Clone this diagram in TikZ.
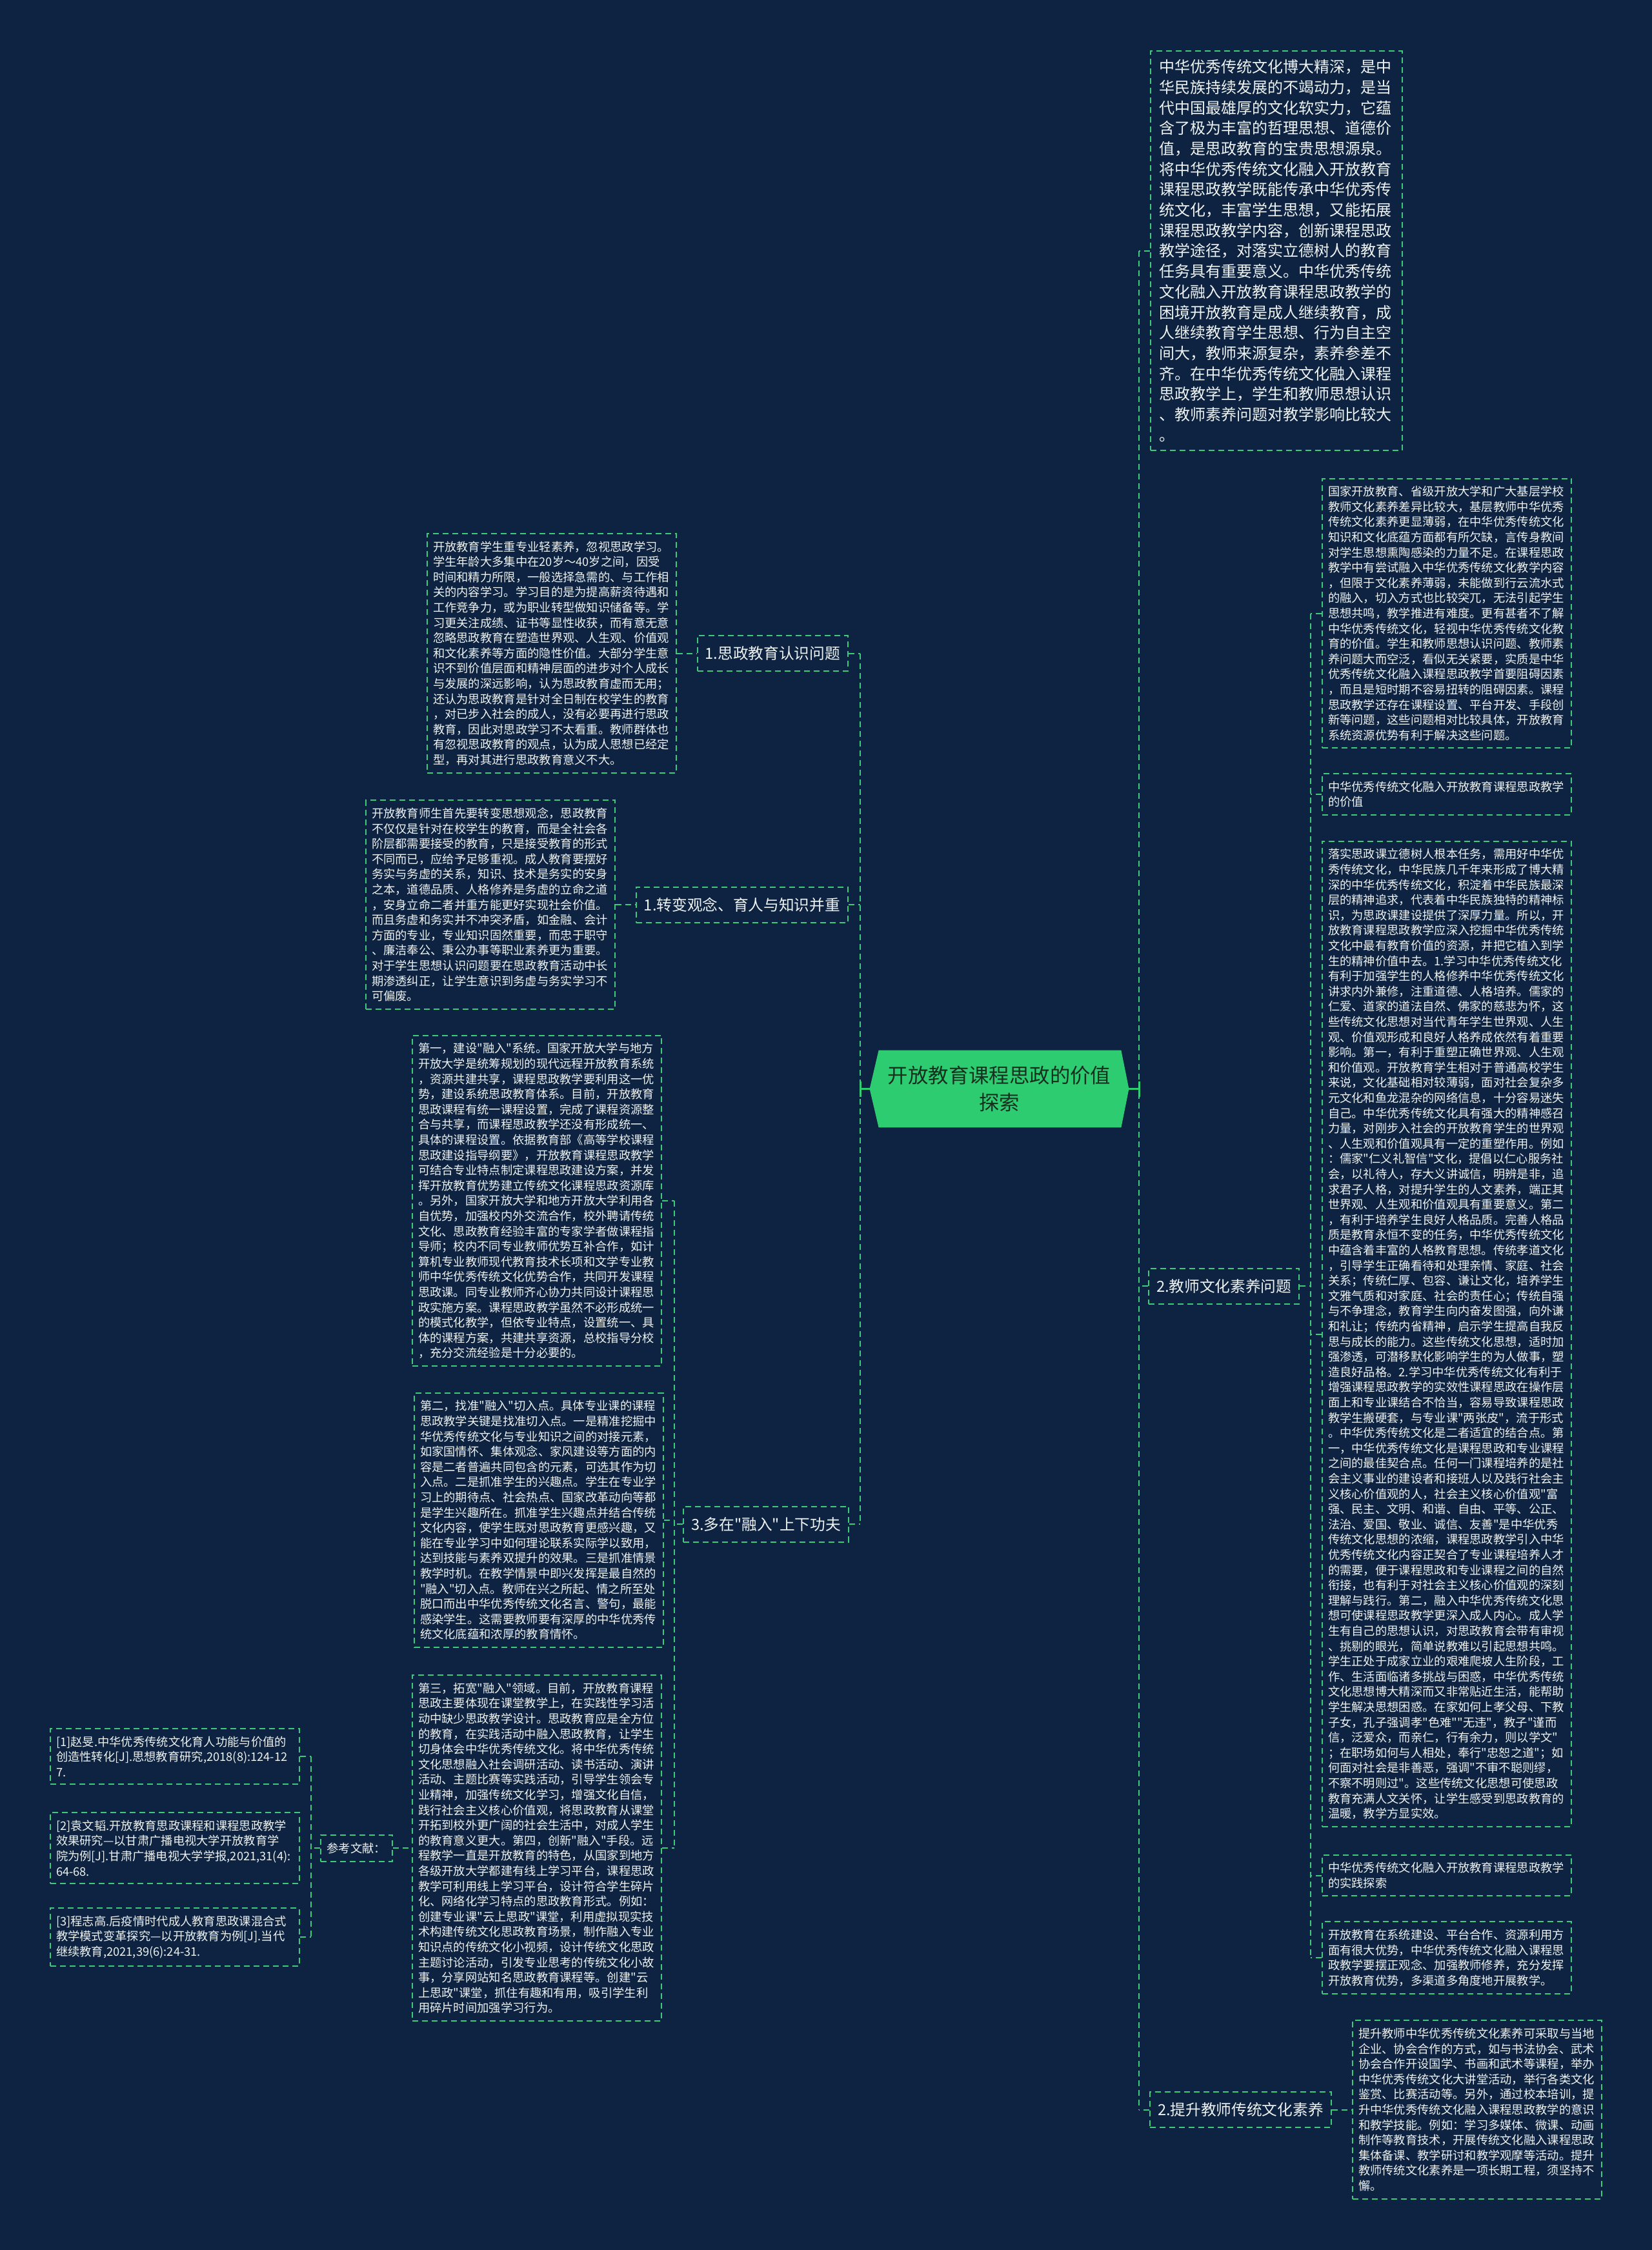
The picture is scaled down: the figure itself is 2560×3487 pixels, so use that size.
\documentclass[tikz,border=0pt]{standalone}
\usepackage{fontspec}
\setmainfont{Noto Sans CJK SC}
\newfontfamily\cjkplain{Noto Sans CJK SC}
\usetikzlibrary{backgrounds,calc}
\definecolor{bg}{HTML}{0D2341}
\definecolor{gline}{HTML}{3FC97A}
\definecolor{gfill}{HTML}{2ECC71}
\definecolor{ctext}{HTML}{16301F}
\definecolor{wtext}{HTML}{EEF2F0}
\tikzset{
  conn/.style={draw=gline, line width=1pt, dash pattern=on 4.5pt off 3pt},
  solidc/.style={draw=gfill, line width=1.5pt},
  box/.style={draw=gline, line width=1pt, dash pattern=on 4.5pt off 3pt, text=wtext,
    align=left, inner xsep=4.5pt, inner ysep=5.8pt, text width=184pt,
    font=\cjkplain\fontsize{9.15pt}{11.8pt}\selectfont},
  bigbox/.style={box, text width=182pt, inner xsep=6.5pt, inner ysep=6.5pt,
    font=\cjkplain\fontsize{12pt}{15.85pt}\selectfont},
  branch/.style={draw=gline, line width=1pt, dash pattern=on 4.5pt off 3pt, text=wtext,
    inner xsep=6pt, minimum height=27.5pt, font=\cjkplain\fontsize{11.85pt}{14pt}\selectfont},
  reflabel/.style={branch, inner xsep=5pt, minimum height=20.5pt,
    font=\cjkplain\fontsize{9.15pt}{11.8pt}\selectfont},
  centre/.style={text=ctext, align=center, minimum width=200.5pt, minimum height=59.5pt,
    inner sep=0pt, font=\cjkplain\fontsize{15.7pt}{20.8pt}\selectfont},
}
\begin{document}
\begin{tikzpicture}[x=0.5pt,y=-0.5pt]
\begin{scope}[on background layer]
\fill[bg] (0,0) rectangle (2560,3487);
\end{scope}
\useasboundingbox (0,0) rectangle (2560,3487);

% centre
\node[centre] (C) at (1548.5,1687.5) {开放教育课程思政的价值\\探索};
\begin{scope}[on background layer]
\fill[gfill] (C.west) -- ([xshift=7pt]C.north west) -- ([xshift=-6pt]C.north east) -- (C.east)
  -- ([xshift=-6pt]C.south east) -- ([xshift=7pt]C.south west) -- cycle;
\end{scope}
\coordinate (TL) at (1333,1687.5);
\coordinate (TR) at (1765,1687.5);

% ---------- right side ----------
\node[bigbox, anchor=west] (T1) at (1782,388.5) {中华优秀传统文化博大精深，是中\\
华民族持续发展的不竭动力，是当\\
代中国最雄厚的文化软实力，它蕴\\
含了极为丰富的哲理思想、道德价\\
值，是思政教育的宝贵思想源泉。\\
将中华优秀传统文化融入开放教育\\
课程思政教学既能传承中华优秀传\\
统文化，丰富学生思想，又能拓展\\
课程思政教学内容，创新课程思政\\
教学途径，对落实立德树人的教育\\
任务具有重要意义。中华优秀传统\\
文化融入开放教育课程思政教学的\\
困境开放教育是成人继续教育，成\\
人继续教育学生思想、行为自主空\\
间大，教师来源复杂，素养参差不\\
齐。在中华优秀传统文化融入课程\\
思政教学上，学生和教师思想认识\\
、教师素养问题对教学影响比较大\\
。};

\node[branch, anchor=west] (R2L) at (1779,1993) {2.教师文化素养问题};
\coordinate (JR2) at (2031,1993);

\node[box, anchor=west] (R1) at (2048,950.5) {国家开放教育、省级开放大学和广大基层学校\\
教师文化素养差异比较大，基层教师中华优秀\\
传统文化素养更显薄弱，在中华优秀传统文化\\
知识和文化底蕴方面都有所欠缺，言传身教间\\
对学生思想熏陶感染的力量不足。在课程思政\\
教学中有尝试融入中华优秀传统文化教学内容\\
，但限于文化素养薄弱，未能做到行云流水式\\
的融入，切入方式也比较突兀，无法引起学生\\
思想共鸣，教学推进有难度。更有甚者不了解\\
中华优秀传统文化，轻视中华优秀传统文化教\\
育的价值。学生和教师思想认识问题、教师素\\
养问题大而空泛，看似无关紧要，实质是中华\\
优秀传统文化融入课程思政教学首要阻碍因素\\
，而且是短时期不容易扭转的阻碍因素。课程\\
思政教学还存在课程设置、平台开发、手段创\\
新等问题，这些问题相对比较具体，开放教育\\
系统资源优势有利于解决这些问题。};

\node[box, anchor=west] (R2) at (2048,1231) {中华优秀传统文化融入开放教育课程思政教学\\
的价值};

\node[box, anchor=west] (R3) at (2048,2067.5) {落实思政课立德树人根本任务，需用好中华优\\
秀传统文化，中华民族几千年来形成了博大精\\
深的中华优秀传统文化，积淀着中华民族最深\\
层的精神追求，代表着中华民族独特的精神标\\
识，为思政课建设提供了深厚力量。所以，开\\
放教育课程思政教学应深入挖掘中华优秀传统\\
文化中最有教育价值的资源，并把它植入到学\\
生的精神价值中去。1.学习中华优秀传统文化\\
有利于加强学生的人格修养中华优秀传统文化\\
讲求内外兼修，注重道德、人格培养。儒家的\\
仁爱、道家的道法自然、佛家的慈悲为怀，这\\
些传统文化思想对当代青年学生世界观、人生\\
观、价值观形成和良好人格养成依然有着重要\\
影响。第一，有利于重塑正确世界观、人生观\\
和价值观。开放教育学生相对于普通高校学生\\
来说，文化基础相对较薄弱，面对社会复杂多\\
元文化和鱼龙混杂的网络信息，十分容易迷失\\
自己。中华优秀传统文化具有强大的精神感召\\
力量，对刚步入社会的开放教育学生的世界观\\
、人生观和价值观具有一定的重塑作用。例如\\
：儒家"仁义礼智信"文化，提倡以仁心服务社\\
会，以礼待人，存大义讲诚信，明辨是非，追\\
求君子人格，对提升学生的人文素养，端正其\\
世界观、人生观和价值观具有重要意义。第二\\
，有利于培养学生良好人格品质。完善人格品\\
质是教育永恒不变的任务，中华优秀传统文化\\
中蕴含着丰富的人格教育思想。传统孝道文化\\
，引导学生正确看待和处理亲情、家庭、社会\\
关系；传统仁厚、包容、谦让文化，培养学生\\
文雅气质和对家庭、社会的责任心；传统自强\\
与不争理念，教育学生向内奋发图强，向外谦\\
和礼让；传统内省精神，启示学生提高自我反\\
思与成长的能力。这些传统文化思想，适时加\\
强渗透，可潜移默化影响学生的为人做事，塑\\
造良好品格。2.学习中华优秀传统文化有利于\\
增强课程思政教学的实效性课程思政在操作层\\
面上和专业课结合不恰当，容易导致课程思政\\
教学生搬硬套，与专业课"两张皮"，流于形式\\
。中华优秀传统文化是二者适宜的结合点。第\\
一，中华优秀传统文化是课程思政和专业课程\\
之间的最佳契合点。任何一门课程培养的是社\\
会主义事业的建设者和接班人以及践行社会主\\
义核心价值观的人，社会主义核心价值观"富\\
强、民主、文明、和谐、自由、平等、公正、\\
法治、爱国、敬业、诚信、友善"是中华优秀\\
传统文化思想的浓缩，课程思政教学引入中华\\
优秀传统文化内容正契合了专业课程培养人才\\
的需要，便于课程思政和专业课程之间的自然\\
衔接，也有利于对社会主义核心价值观的深刻\\
理解与践行。第二，融入中华优秀传统文化思\\
想可使课程思政教学更深入成人内心。成人学\\
生有自己的思想认识，对思政教育会带有审视\\
、挑剔的眼光，简单说教难以引起思想共鸣。\\
学生正处于成家立业的艰难爬坡人生阶段，工\\
作、生活面临诸多挑战与困惑，中华优秀传统\\
文化思想博大精深而又非常贴近生活，能帮助\\
学生解决思想困惑。在家如何上孝父母、下教\\
子女，孔子强调孝"色难""无违"，教子"谨而\\
信，泛爱众，而亲仁，行有余力，则以学文"\\
；在职场如何与人相处，奉行"忠恕之道"；如\\
何面对社会是非善恶，强调"不审不聪则缪，\\
不察不明则过"。这些传统文化思想可使思政\\
教育充满人文关怀，让学生感受到思政教育的\\
温暖，教学方显实效。};

\node[box, anchor=west] (R4) at (2048,2906.5) {中华优秀传统文化融入开放教育课程思政教学\\
的实践探索};

\node[box, anchor=west] (R5) at (2048,3034) {开放教育在系统建设、平台合作、资源利用方\\
面有很大优势，中华优秀传统文化融入课程思\\
政教学要摆正观念、加强教师修养，充分发挥\\
开放教育优势，多渠道多角度地开展教学。};

\node[branch, anchor=west] (R4L) at (1781,3269.5) {2.提升教师传统文化素养};

\node[box, anchor=west] (R6) at (2095,3269.5) {提升教师中华优秀传统文化素养可采取与当地\\
企业、协会合作的方式，如与书法协会、武术\\
协会合作开设国学、书画和武术等课程，举办\\
中华优秀传统文化大讲堂活动，举行各类文化\\
鉴赏、比赛活动等。另外，通过校本培训，提\\
升中华优秀传统文化融入课程思政教学的意识\\
和教学技能。例如：学习多媒体、微课、动画\\
制作等教育技术，开展传统文化融入课程思政\\
集体备课、教学研讨和教学观摩等活动。提升\\
教师传统文化素养是一项长期工程，须坚持不\\
懈。};

% ---------- left side ----------
\node[branch, anchor=east] (L1) at (1315,1012.5) {1.思政教育认识问题};
\node[box, anchor=east] (L1T) at (1049,1012.5) {开放教育学生重专业轻素养，忽视思政学习。\\
学生年龄大多集中在20岁～40岁之间，因受\\
时间和精力所限，一般选择急需的、与工作相\\
关的内容学习。学习目的是为提高薪资待遇和\\
工作竞争力，或为职业转型做知识储备等。学\\
习更关注成绩、证书等显性收获，而有意无意\\
忽略思政教育在塑造世界观、人生观、价值观\\
和文化素养等方面的隐性价值。大部分学生意\\
识不到价值层面和精神层面的进步对个人成长\\
与发展的深远影响，认为思政教育虚而无用；\\
还认为思政教育是针对全日制在校学生的教育\\
，对已步入社会的成人，没有必要再进行思政\\
教育，因此对思政学习不太看重。教师群体也\\
有忽视思政教育的观点，认为成人思想已经定\\
型，再对其进行思政教育意义不大。};

\node[branch, anchor=east] (L2) at (1315,1402) {1.转变观念、育人与知识并重};
\node[box, anchor=east] (L2T) at (954,1402) {开放教育师生首先要转变思想观念，思政教育\\
不仅仅是针对在校学生的教育，而是全社会各\\
阶层都需要接受的教育，只是接受教育的形式\\
不同而已，应给予足够重视。成人教育要摆好\\
务实与务虚的关系，知识、技术是务实的安身\\
之本，道德品质、人格修养是务虚的立命之道\\
，安身立命二者并重方能更好实现社会价值。\\
而且务虚和务实并不冲突矛盾，如金融、会计\\
方面的专业，专业知识固然重要，而忠于职守\\
、廉洁奉公、秉公办事等职业素养更为重要。\\
对于学生思想认识问题要在思政教育活动中长\\
期渗透纠正，让学生意识到务虚与务实学习不\\
可偏废。};

\node[branch, anchor=east] (L3) at (1316,2362) {3.多在"融入"上下功夫};
\coordinate (J3) at (1045,2362);

\node[box, anchor=east] (L3a) at (1026,1861) {第一，建设"融入"系统。国家开放大学与地方\\
开放大学是统筹规划的现代远程开放教育系统\\
，资源共建共享，课程思政教学要利用这一优\\
势，建设系统思政教育体系。目前，开放教育\\
思政课程有统一课程设置，完成了课程资源整\\
合与共享，而课程思政教学还没有形成统一、\\
具体的课程设置。依据教育部《高等学校课程\\
思政建设指导纲要》，开放教育课程思政教学\\
可结合专业特点制定课程思政建设方案，并发\\
挥开放教育优势建立传统文化课程思政资源库\\
。另外，国家开放大学和地方开放大学利用各\\
自优势，加强校内外交流合作，校外聘请传统\\
文化、思政教育经验丰富的专家学者做课程指\\
导师；校内不同专业教师优势互补合作，如计\\
算机专业教师现代教育技术长项和文学专业教\\
师中华优秀传统文化优势合作，共同开发课程\\
思政课。同专业教师齐心协力共同设计课程思\\
政实施方案。课程思政教学虽然不必形成统一\\
的模式化教学，但依专业特点，设置统一、具\\
体的课程方案，共建共享资源，总校指导分校\\
，充分交流经验是十分必要的。};

\node[box, anchor=east] (L3b) at (1029,2356) {第二，找准"融入"切入点。具体专业课的课程\\
思政教学关键是找准切入点。一是精准挖掘中\\
华优秀传统文化与专业知识之间的对接元素，\\
如家国情怀、集体观念、家风建设等方面的内\\
容是二者普遍共同包含的元素，可选其作为切\\
入点。二是抓准学生的兴趣点。学生在专业学\\
习上的期待点、社会热点、国家改革动向等都\\
是学生兴趣所在。抓准学生兴趣点并结合传统\\
文化内容，使学生既对思政教育更感兴趣，又\\
能在专业学习中如何理论联系实际学以致用，\\
达到技能与素养双提升的效果。三是抓准情景\\
教学时机。在教学情景中即兴发挥是最自然的\\
"融入"切入点。教师在兴之所起、情之所至处\\
脱口而出中华优秀传统文化名言、警句，最能\\
感染学生。这需要教师要有深厚的中华优秀传\\
统文化底蕴和浓厚的教育情怀。};

\node[box, anchor=east] (L3c) at (1026,2864) {第三，拓宽"融入"领域。目前，开放教育课程\\
思政主要体现在课堂教学上，在实践性学习活\\
动中缺少思政教学设计。思政教育应是全方位\\
的教育，在实践活动中融入思政教育，让学生\\
切身体会中华优秀传统文化。将中华优秀传统\\
文化思想融入社会调研活动、读书活动、演讲\\
活动、主题比赛等实践活动，引导学生领会专\\
业精神，加强传统文化学习，增强文化自信，\\
践行社会主义核心价值观，将思政教育从课堂\\
开拓到校外更广阔的社会生活中，对成人学生\\
的教育意义更大。第四，创新"融入"手段。远\\
程教学一直是开放教育的特色，从国家到地方\\
各级开放大学都建有线上学习平台，课程思政\\
教学可利用线上学习平台，设计符合学生碎片\\
化、网络化学习特点的思政教育形式。例如：\\
创建专业课"云上思政"课堂，利用虚拟现实技\\
术构建传统文化思政教育场景，制作融入专业\\
知识点的传统文化小视频，设计传统文化思政\\
主题讨论活动，引发专业思考的传统文化小故\\
事，分享网站知名思政教育课程等。创建"云\\
上思政"课堂，抓住有趣和有用，吸引学生利\\
用碎片时间加强学习行为。};

\node[reflabel, anchor=east] (Ref) at (609,2864) {参考文献：};
\coordinate (JR) at (482,2864);
\node[box, anchor=east] (Ref1) at (465,2722) {[1]赵旻.中华优秀传统文化育人功能与价值的\\
创造性转化[J].思想教育研究,2018(8):124-12\\
7.};
\node[box, anchor=east] (Ref2) at (465,2864) {[2]袁文韬.开放教育思政课程和课程思政教学\\
效果研究—以甘肃广播电视大学开放教育学\\
院为例[J].甘肃广播电视大学学报,2021,31(4):\\
64-68.};
\node[box, anchor=east] (Ref3) at (465,3002) {[3]程志高.后疫情时代成人教育思政课混合式\\
教学模式变革探究—以开放教育为例[J].当代\\
继续教育,2021,39(6):24-31.};

% ---------- connectors ----------
\draw[solidc] (C.west) -- (C.west -| TL);
\draw[solidc] ($(TL)+(0,-12)$) -- ($(TL)+(0,12)$);
\draw[solidc] (C.east) -- (C.east -| TR);
\draw[solidc] ($(TR)+(0,-12)$) -- ($(TR)+(0,12)$);
\draw[conn] (L1.east -| TL) -- (L3.east -| TL);
\draw[conn] (L1.east) -- (L1.east -| TL);
\draw[conn] (L2.east) -- (L2.east -| TL);
\draw[conn] (L3.east) -- (L3.east -| TL);
\draw[conn] (L1T.east) -- (L1.west);
\draw[conn] (L2T.east) -- (L2.west);
\draw[conn] (L3.west) -- (J3);
\draw[conn] (L3a.east -| J3) -- (L3c.east -| J3);
\draw[conn] (L3a.east) -- (L3a.east -| J3);
\draw[conn] (L3b.east) -- (L3b.east -| J3);
\draw[conn] (L3c.east) -- (L3c.east -| J3);
\draw[conn] (Ref.east) -- (L3c.west);
\draw[conn] (Ref.west) -- (JR);
\draw[conn] (Ref1.east -| JR) -- (Ref3.east -| JR);
\draw[conn] (Ref1.east) -- (Ref1.east -| JR);
\draw[conn] (Ref3.east) -- (Ref3.east -| JR);
\draw[conn] (T1.west -| TR) -- (R4L.west -| TR);
\draw[conn] (T1.west) -- (T1.west -| TR);
\draw[conn] (R2L.west) -- (R2L.west -| TR);
\draw[conn] (R4L.west) -- (R4L.west -| TR);
\draw[conn] (R2L.east) -- (JR2);
\draw[conn] (R1.west -| JR2) -- (R5.west -| JR2);
\draw[conn] (R1.west) -- (R1.west -| JR2);
\draw[conn] (R2.west) -- (R2.west -| JR2);
\draw[conn] (R3.west) -- (R3.west -| JR2);
\draw[conn] (R4.west) -- (R4.west -| JR2);
\draw[conn] (R5.west) -- (R5.west -| JR2);
\draw[conn] (R4L.east) -- (R6.west);
\end{tikzpicture}
\end{document}
